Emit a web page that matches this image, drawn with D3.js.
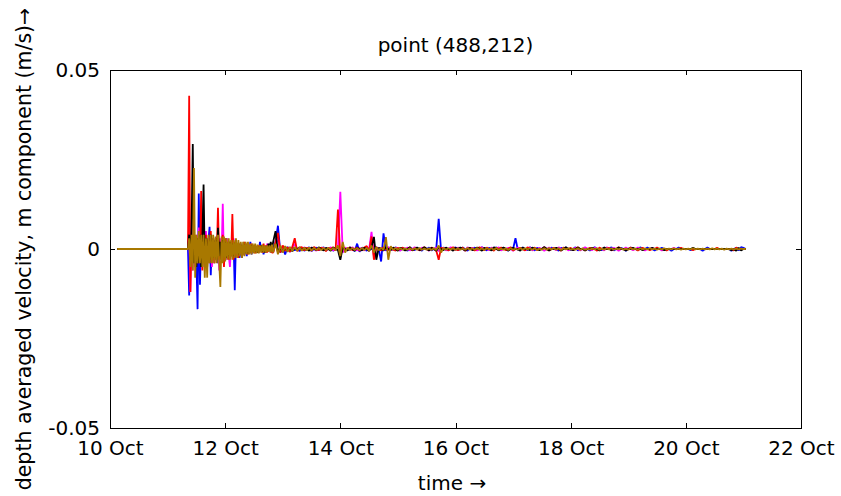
<!DOCTYPE html>
<html>
<head>
<meta charset="utf-8">
<script src="https://cdn.jsdelivr.net/npm/d3@7"></script>
<style>
  body { margin: 0; background: #fff; }
  text { font-family: "DejaVu Sans", sans-serif; fill: #000; }
</style>
</head>
<body>
<svg id="chart" width="841" height="496"></svg>
<script>
// Depth averaged velocity, m component, at grid point (488,212). Values in mm/s.
// Each series: half-hourly samples through the first 36 h of the event ("burst"),
// then hourly samples to the end of the run ("tail").
const recordStartDay = 10.125;            // all series are flat zero from here
const burstStartDay = 11 + 8 / 24;        // 11 Oct 08:00
const burstSamplesPerDay = 48;
const tailStartDay = 12 + 20 / 24;        // 12 Oct 20:00
const tailSamplesPerDay = 24;

const xTickDays = [10, 12, 14, 16, 18, 20, 22];
const xTickLabels = ["10 Oct", "12 Oct", "14 Oct", "16 Oct", "18 Oct", "20 Oct", "22 Oct"];
const yTickValues = [-50, 0, 50];
const yTickLabels = ["-0.05", "0", "0.05"];

// ---- blue ----
const blueBurst = [
  0, 0, -13, 3, -5, 2, -4, 3, -3, -16.8, 15.5, -10,
  3, -3, 2, -4, 3, -3, 2, 6.2, -7.3, 2, -3, 2,
  -3, 3, -4, 2, -3, 2, -3, 1.5, -2, 3, -2, 2,
  -3, 1.5, -2, 2, -11.5, 2, -2, 1.5, -2.5, 1.5, -2.5, 1,
  -1.5, 0.8, -2, 1, -1, 2, -1.5, 0.5, -1, 1, -0.5, 0.8,
  -1, 2, -0.5, 1, -1.5, 0.5, -1, 1, -0.5, 1.5, -1, 0.5
];
const blueTail = [
  -0.5, 2, 6.5, -1, 0.5, -1.5, 0.6, -0.8, 0.5, -0.4, 0.3, -0.6,
  0.4, -0.5, 0, 0.5, -0.6, 0, 0.4, -0.3, 0, 0.5, -0.4, 0, 0.3, -0.5, 0, 0.4, -0.8, 0.3, 0, -0.4, 0.5, 0, -0.6, 1.5,
  -0.8, 0.4, 0, -0.5, 0.3, 0, -0.4, 0.5, 0, -3.5, 4.4, -0.5, 0.4, 0, -0.3, 0.5, 0, -0.4, 0.3, 0, -0.5, 0.4, 0, -0.3,
  0.4, 0, -0.5, 0.3, 0, 0.4, -0.4, 0, 0.3, 8.4, -0.5, 0.4, 0, -0.4, 0.3, 0, 0.5, -0.3, 0, 0.4, 0, -0.5, 0.3, 0,
  0.4, -0.3, 0, 0.5, 0, -0.4, 0.3, 0, 0, 0.5, -0.4, 0, 0.3, 0, -0.5, 0.4, 0, 3, -0.3, 0, 0.4, 0, -0.3, 0.5,
  0, -0.4, 0.3, 0, 0, 0.5, 0, -0.3, 0.4, 0, 0, -0.5, 0.3, 0, 0.4, 0, -0.3, 0, 0.5, -0.4, 0, 0, 0.3, 0,
  -0.4, 0, 0.5, 0, 0, -0.3, 0.4, 0, 0, 0.5, -0.4, 0, 0, 0.3, 0, -0.5, 0, 0.4, 0, 0, -0.3, 0.5, 0, 0,
  0.4, 0, 0, -0.4, 0, 0, 0.3, 0, 0, 0, -0.5, 0, 0, 0.4, 0, 0, 0, 0, -0.3, 0, 0, 0, 0, -0.5,
  0, 0.4, 0, 0, 0, 0, 0, 0, 0, 0, 0, -0.5, 0, 0.3, -0.4, 0.5, 0.3, 0
];

// ---- magenta ----
const magentaBurst = [
  0, 0, 6, -12, 8, -6, 5, -5, 4, -4, 6, -4,
  3, -5, 4, -3, 5, -4, 3, -3, 4, -5, 3, -4,
  2, -3, 4, -6, 3, -2, 12.6, -4, 2, -3, 3, -2,
  -5, 2, -2, 3, -2, 1.5, -2, 1, -1.5, 1, -1, 0.5,
  -1.5, 1, -1, 0.5, -0.8, 1.2, -1, 0.6, -0.5, 1, -0.8, 0.5,
  -1, 0.8, -0.5, 1, -0.8, 0.5, -1, 1.5, -0.5, 1, -1, 0.5
];
const magentaTail = [
  -1, 1.5, 3, -0.8, 0.6, -0.5, 0.4, -0.6, 0.5, 1.5, -0.4, 0.3,
  -0.4, 0.5, 0, -0.3, 0.4, 0, -0.5, 0.3, 0, 0.4, -0.3, 0, 0.5, -0.4, 0, 0.3, 16, -1, 0.4, 0, -0.3, 0.5, 0, -0.4,
  0.3, 0, -0.4, 0.5, 0, 4.8, -2, 0.4, 0, 0.3, -0.4, 0, 0.5, 0, -0.3, 0.4, 0, -0.5, 0.3, 0, 0.4, -0.4, 0, 0.5,
  0, -0.3, 0.4, 0, 0, -0.5, 0.3, 0, 0.4, -0.6, 0, 0.3, -0.4, 0, 0.5, 0, -0.3, 0.4, 0, 0, -0.4, 0.5, 0, 0.3,
  0, -0.4, 0, 0.5, 0, 0, -0.3, 0.4, 0, 0, 0.5, -0.4, 0, 0, 0.3, 0, -0.5, 0, 0.4, 0, 0, -0.3, 0, 0.5,
  -0.4, 0, 0, 0.3, 0, -0.5, 0, 0.4, 0, 0, -0.3, 0.5, 0, 0, 0.4, -0.4, 0, 0, 0.3, 0, -0.4, 0, 0.5, 0,
  0, -0.3, 0.4, 0, 0, 0, -0.4, 0.5, 0, 0, 0.3, 0, -0.5, 0, 0, 0.4, 0, 0, -0.3, 0, 0.4, 0, 0, -0.4,
  0, 0, 0.3, 0, 0, 0, -0.4, 0, 0, 0, 0, 0.3, 0, 0, 0, 0, 0, 0, 0, 0, 0, 0, 0, 0,
  0, 0, 0, 0, 0, 0, 0, 0, 0, 0, 0, 0, 0, 0, 0, 0, 0, 0
];

// ---- red ----
const redBurst = [
  0, 0, 42.8, -12, 3, -4, 6, -3, 3, -4, 3, -3,
  16.2, -6, 3, -3, 4, -3, 3, -4, 5, -3, 2, -4,
  3, -2, 11.5, -3, 2, -3, 4, -5, 3, -2, 2, -3,
  2, -2, 9.8, -3, 2, -2, 1.5, -2.5, 1.5, -1, 1, -1.5,
  2, -1, 1.5, -1.5, 1, -1, 1.5, -0.8, 1, -1.2, 0.8, -1,
  1, -0.5, 0.8, -1, 1.5, -0.5, 1, -1, 0.8, -0.5, 1.5, -1
];
const redTail = [
  -1, 2, 4.5, -1, 1, -0.5, 0.5, -0.8, 0.6, 3, -0.6, 0.4,
  0.5, -0.4, 0.3, 0, -0.5, 0.6, 0, -0.3, 0.4, 0, -0.6, 0.3, 0, 0.5, -0.4, 11, -2, 0.6, -0.4, 0, 0.5, -0.3, 0, 0.4,
  -0.5, 0, 0.4, 0.8, -0.6, 3.5, -3, 0.5, 0, -0.4, 0.5, 0, -0.3, 0.4, 0, -0.5, 0.3, 0, 0.4, -0.3, 0, 0.5, -0.4, 0,
  0.3, -0.4, 0, 0.5, 0, -0.3, 0.4, 0, -0.5, -3, 0.4, 0, 0.3, -0.4, 0, 0.5, 0, -0.3, 0, 0.4, -0.5, 0, 0.3, 0,
  -0.4, 0, 0.5, 0, -0.3, 0.4, 0, 0, -0.5, 0.3, 0, 0.4, 0, -0.3, 0, 0.5, -0.4, 0, 0, 0.3, 0, -0.4, 0.5, 0,
  0, 0.4, -0.3, 0, 0, 0.5, 0, -0.4, 0, 0.3, 0, 0, -0.5, 0.4, 0, 0, 0.3, -0.3, 0, 0.5, 0, 0, -0.4, 0,
  0.3, 0, 0, -0.5, 0.4, 0, 0, 0, 0.3, -0.4, 0, 0, 0.5, 0, 0, -0.3, 0, 0.4, 0, 0, -0.4, 0, 0.3, 0,
  0, -0.3, 0, 0, 0.4, 0, 0, 0, -0.4, 0, 0, 0, 0, 0, 0.3, 0, 0, 0, 0, -0.3, 0, 0, 0, 0,
  0, 0, 0, 0, 0, 0.3, 0, 0, 0, 0, 0, 0, -0.4, 0.4, 0, 0, 0, 0
];

// ---- black ----
const blackBurst = [
  0, 0, 4, -3, 6, 29.3, -4, 3, -5, 3, -4, 4,
  -5, 3, 18, -4, 3, -5, 3, -3, 4, -2, 3, -2.5,
  2.5, -3, 5.9, -2, 2, -3, 2.5, -2, 2, -2.5, 1.5, -2,
  2, -1.5, 1.5, -2, 1.5, -1, 1, -1.5, 1.2, -1, 1, -0.8,
  1.2, -1, 0.8, -1.2, 0.5, -0.8, 1, -0.5, 0.8, -0.8, 0.5, -1,
  0.6, -0.5, 1, -0.8, 0.5, -1, 0.6, -0.5, 1.5, -0.6, 2, -0.5
];
const blackTail = [
  2, 5, -1, 0.5, -0.8, 0.4, -0.5, 0.3, -0.6, 0.4, -0.3, 0.5,
  -0.4, 0.3, 0, -0.5, 0.4, 0, -0.3, 0.5, 0, -0.4, 0.3, 0, -0.5, 0.4, 0, -0.3, -3, 0.4, 0, -0.4, 0.3, 0, -0.5, 0.4,
  0, -0.4, 0.3, 0, -0.5, 0.4, 3.4, -3, 0.3, 0, -0.4, 0.5, 0, -0.3, 0.4, 0, -0.5, 0.3, 0, -0.4, 0, 0.5, -0.3, 0,
  0.4, -0.3, 0, 0.5, 0, -0.4, 0.3, 0, -0.5, 0.4, 0, -0.3, 0.4, 0, 0, -0.5, 0.3, 0, 0.4, 0, -0.4, 0, 0.3, -0.3,
  0, 0.4, 0, -0.5, 0.3, 0, 0, -0.4, 0.5, 0, -0.3, 0, 0.4, 0, -0.4, 0, 0.3, 0, 0, -0.5, 0.4, 0, 0, -0.3,
  0.4, 0, 0, -0.3, 0, 0.5, 0, -0.4, 0, 0, 0.3, 0, -0.4, 0, 0.5, 0, 0, -0.3, 0, 0.4, 0, 0, -0.4, 0,
  0, 0.3, 0, 0, -0.4, 0, 0.4, 0, 0, -0.3, 0, 0, 0.4, 0, 0, -0.4, 0, 0, 0.3, 0, 0, 0, -0.3, 0,
  0, 0, 0.3, 0, 0, 0, 0, -0.3, 0, 0, 0, 0, 0, 0, 0, 0, 0, 0, 0, 0.3, 0, 0, 0, 0,
  0, 0, 0, 0, 0, 0, 0, 0, 0, 0, 0, -0.3, 0, -0.5, 0.3, -0.4, 0, 0
];

// ---- brown ----
const brownBurst = [
  0, 0, 3, -5, 4, -6, 22.6, -8, 4, -4, 5, -4,
  4, -5, 4, -8, 3, -8, 4, -4, 4, -4, 4, -4,
  3.5, -4, 4, -3.5, -10.6, 3.5, -4, 3.5, -3.5, 3, -3, 3,
  -3, 2.5, -3, 2.5, -2.5, 3, -2.5, 2.5, -2, 2, -2.5, 2,
  -2, 2, -1.5, 2, -1.5, 1.5, -1.5, 1.5, -1.2, 1.5, -1.2, 1.2,
  -1.2, 1, -1, 1.2, -1, 1, -1, 1, -0.8, 1, -1, 1.2
];
const brownTail = [
  -1, 1.5, -1.5, 1, -1, 0.8, -0.8, 0.6, -0.6, 0.6, -0.5, 0.5,
  -0.5, 0.4, -0.4, 0.4, -0.4, 0.3, -0.3, 0.3, -0.3, 0.3, -0.3, 0.3, -0.3, 0.3, -0.3, 1, -2, 2, -1, 0.4, -0.3, 0.3, -0.3, 0.3,
  -0.3, 0.3, -0.3, 0.3, -0.5, 1, -1, 0.5, -0.3, 0.3, -0.3, 3.3, -3, 0.8, -0.3, 0.3, -0.2, 0.2, -0.2, 0.2, -0.2, 0.2, -0.2, 0.2,
  -0.2, 0.3, -0.2, 0.1, -0.2, 0.2, -0.3, 0.2, -0.3, 1, -1, 0.3, -0.2, 0.2, -0.1, 0.2, -0.3, 0.2, -0.2, 0.1, -0.2, 0.3, -0.2, 0.2,
  -0.2, 0.3, -0.2, 0.2, -0.3, 0.2, -0.1, 0.2, -0.2, 0.3, -0.2, 0.1, -0.2, 0.2, -0.3, 0.2, -0.2, 0.1, -0.2, 0.3, -0.2, 0.2, -0.1, 0.2,
  -0.2, 0.2, -0.3, 0.1, -0.2, 0.2, -0.2, 0.3, -0.1, 0.2, -0.2, 0.2, -0.3, 0.2, -0.1, 0.2, -0.2, 0.1, -0.2, 0.2, -0.3, 0.2, -0.2, 0.1,
  -0.2, 0.2, -0.1, 0.2, -0.2, 0.1, -0.2, 0.2, -0.1, 0.2, -0.2, 0.1, -0.1, 0.2, -0.2, 0.1, -0.2, 0.2, -0.1, 0.1, -0.2, 0.2, -0.1, 0.1,
  -0.1, 0.2, -0.1, 0.1, -0.2, 0.1, -0.1, 0.2, -0.1, 0.1, -0.1, 0.2, -0.1, 0.1, -0.2, 0.1, -0.1, 0.1, -0.1, 0.2, -0.1, 0.1, -0.1, 0.1,
  -0.1, 0.1, -0.1, 0.2, -0.1, 0.1, -0.1, 0.1, -0.2, 0.1, -0.1, 0.1, -0.1, 0.1, -0.1, 0.1, 0, 0
];

// drawing order: later series sit on top
const seriesList = [
  { burst: blueBurst, tail: blueTail, color: "#0000ff" },
  { burst: magentaBurst, tail: magentaTail, color: "#ff00ff" },
  { burst: redBurst, tail: redTail, color: "#ff0000" },
  { burst: blackBurst, tail: blackTail, color: "#000000" },
  { burst: brownBurst, tail: brownTail, color: "#a87800" }
];

const svg = d3.select("#chart");
const plot = { left: 110, right: 801, top: 70, bottom: 428 };

const x = d3.scaleLinear().domain([10, 22]).range([plot.left, plot.right]);
const y = d3.scaleLinear().domain([-50, 50]).range([plot.bottom, plot.top]);

svg.append("defs").append("clipPath").attr("id", "plotClip")
  .append("rect")
  .attr("x", plot.left).attr("y", plot.top)
  .attr("width", plot.right - plot.left).attr("height", plot.bottom - plot.top);

const line = d3.line().x(d => x(d.day)).y(d => y(d.v));

const lines = svg.append("g").attr("clip-path", "url(#plotClip)");
seriesList.forEach(s => {
  const pts = [{ day: recordStartDay, v: 0 }]
    .concat(s.burst.map((v, j) => ({ day: burstStartDay + j / burstSamplesPerDay, v })))
    .concat(s.tail.map((v, i) => ({ day: tailStartDay + i / tailSamplesPerDay, v })));
  lines.append("path")
    .datum(pts)
    .attr("d", line)
    .attr("fill", "none")
    .attr("stroke", s.color)
    .attr("stroke-width", 1.8)
    .attr("stroke-linejoin", "bevel");
});

// box
svg.append("rect")
  .attr("x", plot.left).attr("y", plot.top)
  .attr("width", plot.right - plot.left).attr("height", plot.bottom - plot.top)
  .attr("fill", "none").attr("stroke", "#000").attr("stroke-width", 1)
  .attr("shape-rendering", "crispEdges");

const tickLen = 5;
function styleAxis(g) {
  g.select(".domain").remove();
  g.selectAll("line").attr("stroke", "#000").attr("shape-rendering", "crispEdges");
  g.selectAll("text").style("font-family", "DejaVu Sans, sans-serif").style("font-size", "20px").attr("fill", "#000");
}

svg.append("g").attr("transform", `translate(0,${plot.bottom})`)
  .call(d3.axisBottom(x).tickValues(xTickDays).tickFormat((d, i) => xTickLabels[i])
    .tickSize(-tickLen).tickPadding(13))
  .call(styleAxis);
svg.append("g").attr("transform", `translate(0,${plot.top})`)
  .call(d3.axisTop(x).tickValues(xTickDays).tickFormat("").tickSize(-tickLen))
  .call(styleAxis);
svg.append("g").attr("transform", `translate(${plot.left},0)`)
  .call(d3.axisLeft(y).tickValues(yTickValues).tickFormat((d, i) => yTickLabels[i])
    .tickSize(-tickLen).tickPadding(10))
  .call(styleAxis);
svg.append("g").attr("transform", `translate(${plot.right},0)`)
  .call(d3.axisRight(y).tickValues(yTickValues).tickFormat("").tickSize(-tickLen))
  .call(styleAxis);

// titles
svg.append("text")
  .attr("x", (plot.left + plot.right) / 2).attr("y", 52)
  .attr("text-anchor", "middle").style("font-size", "20px")
  .text("point (488,212)");

svg.append("text")
  .attr("x", 452).attr("y", 490)
  .attr("text-anchor", "middle").style("font-size", "20px")
  .text("time \u2192");

svg.append("text")
  .attr("transform", `translate(31,${(plot.top + plot.bottom) / 2}) rotate(-90)`)
  .attr("text-anchor", "middle").style("font-size", "20.5px")
  .text("depth averaged velocity, m component (m/s)\u2192");
</script>
</body>
</html>
